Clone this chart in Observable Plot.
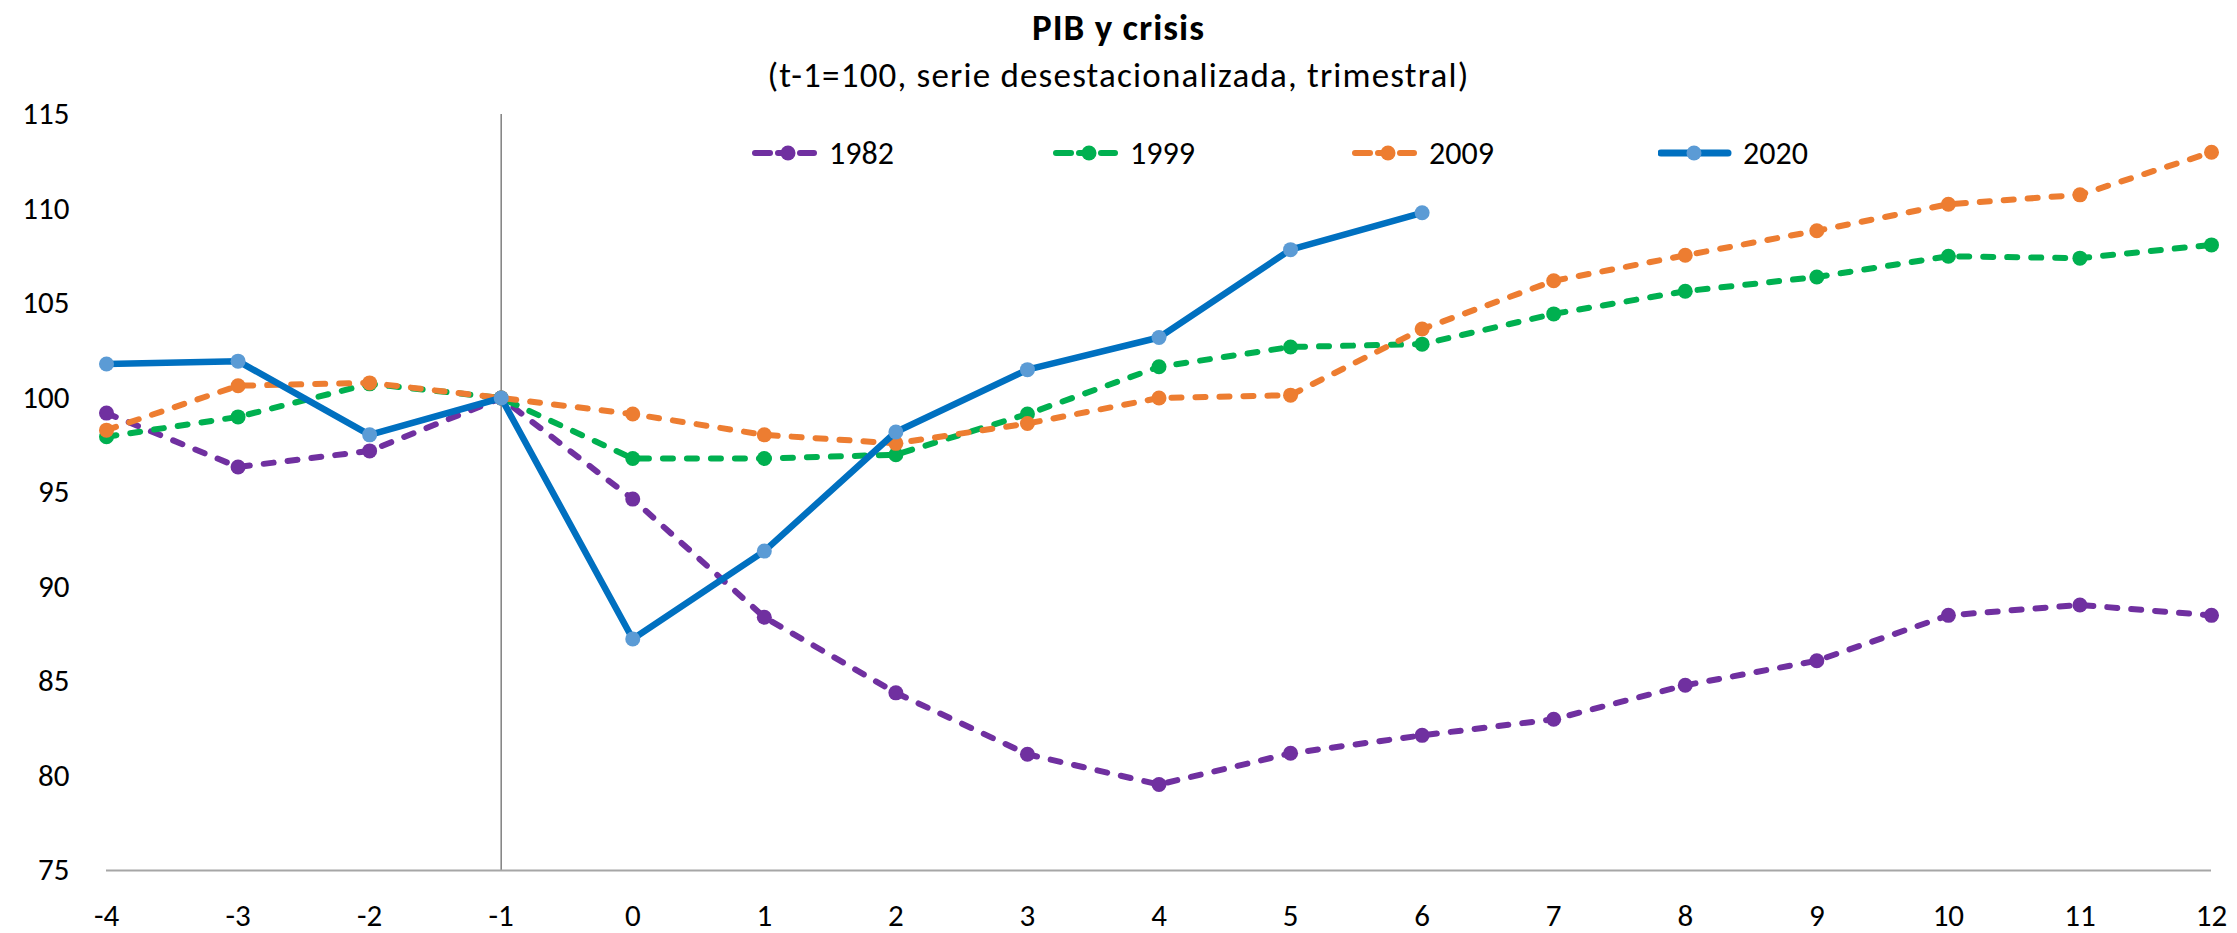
<!DOCTYPE html>
<html>
<head>
<meta charset="utf-8">
<script src="https://cdn.jsdelivr.net/npm/d3@7"></script>
<script src="https://cdn.jsdelivr.net/npm/@observablehq/plot@0.6"></script>
<style>
  html, body { margin: 0; padding: 0; background: #fff; }
  #wrap { position: relative; width: 2237px; height: 933px; overflow: hidden; font-family: Carlito, Calibri, Lato, sans-serif; color: #000; }
  #title { position: absolute; left: 0; width: 2237px; top: 5px; text-align: center; font-weight: bold; font-size: 37px; letter-spacing: 1px; line-height: 46px; }
  #subtitle { position: absolute; left: 0; width: 2237px; top: 52px; text-align: center; font-size: 35px; letter-spacing: 1.2px; line-height: 46px; }
  #legend { position: absolute; left: 0; top: 133px; width: 2237px; height: 40px; }
  .item { position: absolute; top: 0; height: 40px; display: flex; align-items: center; font-size: 32px; }
  .item svg { margin-right: 11px; }
  #chart { position: absolute; left: 0; top: 0; }
</style>
</head>
<body>
<div id="wrap">
  <div id="chart"></div>
  <div id="title">PIB y crisis</div>
  <div id="subtitle">(t-1=100, serie desestacionalizada, trimestral)</div>
  <div id="legend"></div>
</div>
<script>
// ---- data ----
const quarters = [-4, -3, -2, -1, 0, 1, 2, 3, 4, 5, 6, 7, 8, 9, 10, 11, 12];
const yTicks = [75, 80, 85, 90, 95, 100, 105, 110, 115];
const seriesNames = ["1982", "1999", "2009", "2020"];
const s1982 = [99.2, 96.35, 97.2, 100, 94.65, 88.4, 84.4, 81.15, 79.55, 81.2, 82.15, 83.0, 84.8, 86.1, 88.5, 89.05, 88.5];
const s1999 = [97.95, 99.0, 100.75, 100, 96.8, 96.8, 97.0, 99.15, 101.65, 102.7, 102.85, 104.45, 105.65, 106.4, 107.5, 107.4, 108.1];
const s2009 = [98.3, 100.65, 100.8, 100, 99.15, 98.05, 97.6, 98.65, 100.0, 100.15, 103.65, 106.2, 107.55, 108.85, 110.25, 110.75, 113.0];
const s2020 = [101.8, 101.95, 98.05, 100, 87.25, 91.9, 98.2, 101.5, 103.2, 107.85, 109.8];
const refQuarter = -1;

// ---- styles ----
const styles = {
  "1982": { line: "#7030A0", dot: "#7030A0", dash: "10,14", width: 6 },
  "1999": { line: "#00B050", dot: "#00B050", dash: "10,14", width: 6 },
  "2009": { line: "#ED7D31", dot: "#ED7D31", dash: "10,14", width: 6 },
  "2020": { line: "#0070C0", dot: "#5B9BD5", dash: null, width: 6.5 }
};
const valuesBySeries = { "1982": s1982, "1999": s1999, "2009": s2009, "2020": s2020 };

const table = name => valuesBySeries[name].map((v, i) => ({ q: quarters[i], v, name }));

const seriesMarks = [];
for (const name of seriesNames) {
  const st = styles[name];
  const data = table(name);
  seriesMarks.push(Plot.line(data, {
    x: "q", y: "v", stroke: st.line, strokeWidth: st.width,
    strokeDasharray: st.dash || undefined, strokeLinecap: "round", strokeLinejoin: "round"
  }));
  seriesMarks.push(Plot.dot(data, { x: "q", y: "v", r: 7.5, fill: st.dot, stroke: "none" }));
}

const chart = Plot.plot({
  width: 2237,
  height: 933,
  marginLeft: 106,
  marginRight: 26,
  marginTop: 114,
  marginBottom: 63,
  style: { fontFamily: "Carlito, Calibri, Lato, sans-serif", fontSize: "31px", color: "#000", background: "transparent", overflow: "visible" },
  x: { domain: [-4, 12], label: null },
  y: { domain: [75, 115], label: null },
  marks: [
    Plot.ruleX([refQuarter], { y1: 75, y2: 115, stroke: "#7f7f7f", strokeWidth: 1.5 }),
    Plot.ruleY([75], { stroke: "#a6a6a6", strokeWidth: 2 }),
    Plot.axisX(quarters, { tickSize: 0, tickPadding: 33, fontSize: 31, tickFormat: d => String(d), fill: "#000" }),
    Plot.axisY(yTicks, { tickSize: 0, tickPadding: 37, fontSize: 31, tickFormat: d => String(d), fill: "#000" }),
    ...seriesMarks
  ]
});
document.getElementById("chart").appendChild(chart);

// ---- legend ----
const legendLeft = { "1982": 752, "1999": 1053, "2009": 1352, "2020": 1658 };
const legend = document.getElementById("legend");
for (const name of seriesNames) {
  const st = styles[name];
  const div = document.createElement("div");
  div.className = "item";
  div.style.left = legendLeft[name] + "px";
  const dashSeg = st.dash
    ? `<line x1="3" y1="20" x2="18" y2="20" stroke="${st.line}" stroke-width="6" stroke-linecap="round"/>
       <line x1="26" y1="20" x2="40" y2="20" stroke="${st.line}" stroke-width="6" stroke-linecap="round"/>
       <line x1="48" y1="20" x2="62" y2="20" stroke="${st.line}" stroke-width="6" stroke-linecap="round"/>`
    : `<line x1="3" y1="20" x2="70" y2="20" stroke="${st.line}" stroke-width="7" stroke-linecap="round"/>`;
  const w = st.dash ? 66 : 74;
  div.innerHTML = `<svg width="${w}" height="40">${dashSeg}<circle cx="36" cy="20" r="7.5" fill="${st.dot}"/></svg><span>${name}</span>`;
  legend.appendChild(div);
}
</script>
</body>
</html>
